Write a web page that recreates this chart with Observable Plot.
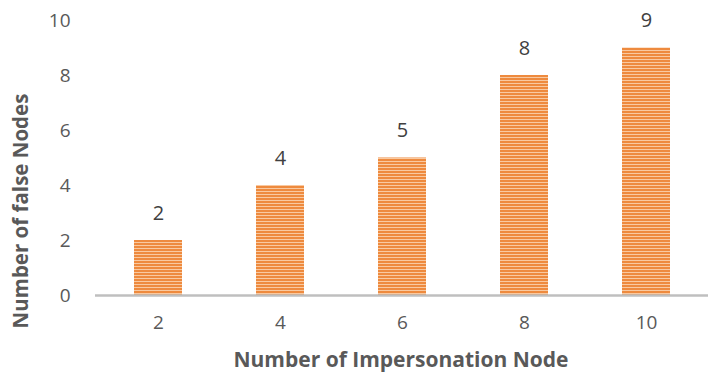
<!DOCTYPE html>
<html>
<head>
<meta charset="utf-8">
<script src="https://cdn.jsdelivr.net/npm/d3@7"></script>
<script src="https://cdn.jsdelivr.net/npm/@observablehq/plot@0.6"></script>
<style>
  body { margin: 0; background: #fff; }
  #chart svg { display: block; }
</style>
</head>
<body>
<div id="chart"></div>
<script>
// Impersonation nodes vs. false nodes detected
const impersonationNodes = [2, 4, 6, 8, 10];
const falseNodes = [2, 4, 5, 8, 9];
const yTicks = [0, 2, 4, 6, 8, 10];
const xTitle = "Number of Impersonation Node";
const yTitle = "Number of false Nodes";

const data = impersonationNodes.map((n, i) => ({n: String(n), v: falseNodes[i]}));

const font = "'Open Sans', sans-serif";

// Striped orange fill used for the bars
const stripes = () => {
  const ns = "http://www.w3.org/2000/svg";
  const defs = document.createElementNS(ns, "defs");
  const p = document.createElementNS(ns, "pattern");
  p.setAttribute("id", "stripes");
  p.setAttribute("patternUnits", "userSpaceOnUse");
  p.setAttribute("width", 8);
  p.setAttribute("height", 3);
  const a = document.createElementNS(ns, "rect");
  a.setAttribute("width", 8); a.setAttribute("height", 3); a.setAttribute("fill", "#ee8a3e");
  const b = document.createElementNS(ns, "rect");
  b.setAttribute("y", 2); b.setAttribute("width", 8); b.setAttribute("height", 1); b.setAttribute("fill", "#f9c9a0");
  p.append(a, b);
  defs.append(p);
  return defs;
};

const chart = Plot.plot({
  width: 712,
  height: 380,
  marginLeft: 95,
  marginRight: 4,
  marginTop: 20,
  marginBottom: 85,
  style: {fontFamily: font, fontSize: "19px", color: "#595959", background: "#fff"},
  x: {domain: impersonationNodes.map(String), paddingInner: 0.61, paddingOuter: 0.305, label: null},
  y: {domain: [0, 10], ticks: yTicks, label: null},
  marks: [
    stripes,
    Plot.barY(data, {x: "n", y: "v", fill: "url(#stripes)"}),
    Plot.ruleY([0], {stroke: "#bfbfbf", strokeWidth: 2.5}),
    Plot.axisY({ticks: yTicks, tickSize: 0, tickPadding: 25, fontSize: 19, fill: "#595959", label: null}),
    Plot.axisX({tickSize: 0, tickPadding: 20, fontSize: 19, fill: "#595959", label: null}),
    Plot.text(data, {x: "n", y: "v", text: d => String(d.v), dy: -27, fontSize: 20, fill: "#404040"})
  ]
});

// Axis titles
const svg = d3.select(chart);
svg.append("text")
  .attr("x", 401).attr("y", 367)
  .attr("text-anchor", "middle")
  .attr("font-size", 21).attr("font-weight", "bold").attr("fill", "#595959")
  .text(xTitle);
svg.append("text")
  .attr("transform", "translate(21,211) rotate(-90)")
  .attr("dy", "0.35em")
  .attr("text-anchor", "middle")
  .attr("font-size", 20.5).attr("font-weight", "bold").attr("fill", "#595959")
  .text(yTitle);

document.getElementById("chart").append(chart);
</script>
</body>
</html>
